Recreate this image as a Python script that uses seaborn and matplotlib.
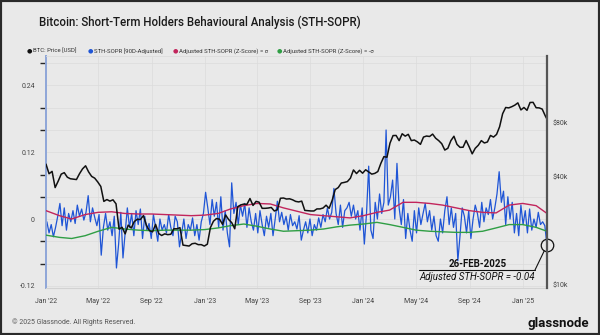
import numpy as np
import pandas as pd
import matplotlib
matplotlib.use("Agg")
import matplotlib.pyplot as plt
import matplotlib.dates as mdates
import matplotlib.ticker as mticker
from matplotlib.patches import Rectangle
from matplotlib.lines import Line2D
import seaborn as sns

# ---------------- data ----------------
# BTC price, weekly from 2022-01-01, in $k
btc_price_k = [
    47.3, 41.8, 43.1, 35.0, 38.0, 41.6, 42.4, 40.0, 39.2, 39.0, 38.8, 41.8, 44.5,
    46.3, 42.8, 40.4, 39.5, 37.6, 35.5, 29.3, 30.0, 29.4, 29.9, 28.4, 20.5, 21.0,
    19.3, 21.6, 20.8, 22.6, 23.3, 23.2, 24.4, 21.5, 20.1, 19.8, 21.8, 19.4, 18.9,
    19.3, 19.1, 19.2, 20.6, 20.6, 20.9, 16.7, 16.6, 16.5, 17.0, 17.1, 16.8, 16.8, 16.5,
    16.9, 20.9, 22.7, 23.5, 23.3, 21.8, 24.6, 23.2, 22.3, 20.6, 27.4, 28.0,
    28.3, 28.2, 30.4, 27.8, 29.3, 29.0, 26.8, 26.8, 26.9, 27.1, 25.9, 26.3, 30.5,
    30.6, 30.2, 30.3, 29.9, 29.3, 29.1, 29.4, 26.1, 26.0, 25.9, 25.9, 26.6, 26.6, 26.9,
    27.9, 26.8, 29.7, 34.1, 35.0, 37.1, 37.4, 37.8, 39.5, 43.9, 41.9, 43.7, 42.1,
    44.0, 42.8, 41.6, 42.0, 43.0, 47.8, 52.1, 51.7, 62.0, 68.3, 68.4, 64.0, 69.9,
    67.8, 69.4, 64.0, 64.5, 63.0, 61.0, 67.0, 67.9, 67.5, 69.6, 66.0, 64.0, 61.5,
    56.7, 58.0, 64.0, 67.7, 61.0, 58.7, 58.8, 64.1, 59.1, 54.0, 58.0, 60.3, 64.0,
    62.1, 62.9, 68.4, 67.0, 69.3, 76.5, 90.5, 98.0, 97.5, 99.0, 101.0, 104.0, 95.0,
    98.0, 94.5, 104.5, 104.7, 97.7, 97.5, 96.0, 88.0,
    84.3,
]

# STH-SOPR [90D-Adjusted], every 5 days ending 2025-02-26
sth_sopr = [
    -0.005, -0.025, -0.010, -0.032, -0.015, 0.005,
    0.028, -0.012, 0.020, -0.020, 0.010, -0.005,
    0.015, -0.008, 0.025, 0.005, 0.018, -0.002,
    0.012, 0.042, -0.005, 0.020, 0.003, -0.012,
    0.008, -0.065, -0.015, 0.010, -0.020, -0.005,
    -0.030, 0.005, -0.088, -0.045, 0.012, -0.070,
    -0.025, 0.020, -0.015, 0.010, -0.030, 0.015,
    -0.010, 0.018, -0.035, 0.005, -0.020, -0.008,
    -0.035, 0.008, -0.015, -0.040, 0.000, -0.020,
    -0.010, -0.025, 0.008, -0.015, -0.030, 0.005,
    -0.005, -0.050, -0.025, 0.000, -0.035, -0.010,
    -0.020, 0.002, -0.030, -0.010, -0.038, -0.005,
    0.010, 0.048, 0.020, -0.010, 0.035, 0.005,
    0.030, -0.015, 0.040, -0.020, 0.015, -0.025,
    -0.050, 0.065, 0.010, 0.030, -0.010, 0.025,
    0.005, 0.028, -0.015, 0.020, -0.005, -0.020,
    0.010, -0.025, 0.015, -0.010, -0.030, 0.005,
    -0.015, 0.010, -0.030, 0.000, 0.032, -0.005,
    0.012, -0.010, 0.005, -0.020, 0.008, -0.012,
    -0.005, -0.018, 0.006, -0.038, -0.020, -0.005,
    -0.025, 0.000, -0.030, -0.010, -0.020, 0.002,
    -0.015, 0.008, -0.005, 0.020, 0.000, 0.012,
    0.055, 0.010, -0.010, 0.025, -0.015, 0.015,
    0.020, 0.030, 0.005, 0.025, 0.000, 0.015,
    -0.020, 0.020, -0.045, 0.010, 0.095, -0.020,
    -0.035, 0.030, 0.000, 0.045, 0.010, 0.030,
    0.160, 0.025, 0.040, 0.070, 0.000, 0.100,
    0.020, -0.010, 0.035, -0.035, 0.010, -0.020,
    -0.040, 0.015, -0.025, 0.020, -0.010, 0.010,
    0.028, -0.005, 0.015, -0.020, 0.005, -0.030,
    -0.040, 0.000, -0.025, 0.015, 0.040, -0.010,
    0.020, -0.015, 0.010, -0.075, -0.030, 0.020,
    0.005, -0.025, 0.015, -0.035, 0.000, 0.025,
    0.010, -0.015, 0.030, -0.005, 0.020, 0.008,
    0.035, 0.000, 0.020, 0.045, 0.085, 0.030,
    0.050, -0.010, 0.040, 0.000, 0.030, -0.025,
    0.010, -0.030, 0.025, -0.010, 0.015, -0.025,
    0.018, -0.020, 0.000, -0.015, 0.012, -0.010,
    -0.005, -0.012, -0.047,
]

# Adjusted STH-SOPR (Z-Score) = +sigma / -sigma, monthly from Jan 2022 + last day
z_plus = [0.015, 0.006, 0.000, 0.008, 0.012, 0.013, 0.010, 0.009, 0.009, 0.008,
          0.007, 0.006, 0.007, 0.010, 0.018, 0.024, 0.028, 0.027, 0.020, 0.014,
          0.008, 0.006, 0.004, 0.002, 0.006, 0.012, 0.016, 0.030, 0.030, 0.028,
          0.025, 0.020, 0.015, 0.012, 0.011, 0.025, 0.028, 0.024, 0.010]
z_minus = [-0.029, -0.033, -0.035, -0.030, -0.022, -0.015, -0.018, -0.020, -0.021, -0.020,
           -0.020, -0.020, -0.019, -0.016, -0.012, -0.009, -0.013, -0.018, -0.022, -0.021,
           -0.020, -0.018, -0.014, -0.011, -0.009, -0.006, -0.010, -0.015, -0.020, -0.022,
           -0.023, -0.024, -0.024, -0.022, -0.016, -0.010, -0.010, -0.015, -0.022]

left_ticks = [-0.12, 0, 0.12, 0.24]
left_labels = ["-0.12", "0", "0.12", "0.24"]
right_ticks = [10000, 40000, 80000]
right_labels = ["$10k", "$40k", "$80k"]
x_tick_dates = ["2022-01-01", "2022-05-01", "2022-09-01", "2023-01-01", "2023-05-01",
                "2023-09-01", "2024-01-01", "2024-05-01", "2024-09-01", "2025-01-01"]
x_tick_labels = ["Jan '22", "May '22", "Sep '22", "Jan '23", "May '23",
                 "Sep '23", "Jan '24", "May '24", "Sep '24", "Jan '25"]
legend_labels = ["BTC: Price [USD]", "STH-SOPR [90D-Adjusted]",
                 "Adjusted STH-SOPR (Z-Score) = σ", "Adjusted STH-SOPR (Z-Score) = -σ"]

# ---------------- frames ----------------
last_day = pd.Timestamp("2025-02-26")
price_dates = list(pd.date_range("2022-01-01", periods=len(btc_price_k) - 1, freq="7D")) + [last_day]
df_price = pd.DataFrame({"date": price_dates, "price": np.array(btc_price_k) * 1000})
df_sopr = pd.DataFrame({"date": pd.date_range(end=last_day, periods=len(sth_sopr), freq="5D"),
                        "v": sth_sopr})
z_dates = list(pd.date_range("2022-01-01", periods=len(z_plus) - 1, freq="MS")) + [last_day]
df_z = pd.DataFrame({"date": z_dates, "plus": z_plus, "minus": z_minus})

# ---------------- style ----------------
BG = "#e9e9e9"
sns.set_theme(style="white")
plt.rcParams["font.family"] = ["Roboto", "DejaVu Sans"]

C_BLACK = "#111111"
C_BLUE = "#1f55d6"
C_PINK = "#c2255c"
C_GREEN = "#2f9e44"

fig = plt.figure(figsize=(6.0, 3.35), dpi=100, facecolor=BG)
W, H = 600, 335
ax = fig.add_axes([46 / W, 1 - 288 / H, (547 - 46) / W, (288 - 56) / H])
ax.set_facecolor(BG)
ax2 = ax.twinx()

sns.lineplot(data=df_z, x="date", y="plus", ax=ax, color=C_PINK, lw=1.0, zorder=3)
sns.lineplot(data=df_z, x="date", y="minus", ax=ax, color=C_GREEN, lw=1.0, zorder=3)
sns.lineplot(data=df_sopr, x="date", y="v", ax=ax, color=C_BLUE, lw=0.9, zorder=2)
sns.lineplot(data=df_price, x="date", y="price", ax=ax2, color=C_BLACK, lw=1.1)

ax.set_xlim(pd.Timestamp("2022-01-01"), last_day)
ax.set_ylim(-0.124, 0.293)
ax2.set_yscale("log")
ax2.set_ylim(9620, 190000)

ax.set_xlabel("")
ax.set_ylabel("")
ax2.set_ylabel("")

ax.set_xticks(pd.to_datetime(x_tick_dates))
ax.set_xticklabels(x_tick_labels, fontsize=5, color="#444444")
ax.set_yticks(left_ticks)
ax.set_yticklabels(left_labels, fontsize=5, color="#444444")
ax.set_yticks(np.arange(-0.12, 0.29, 0.04), minor=True)
ax.tick_params(axis="both", length=0, pad=8)
ax.tick_params(axis="x", pad=7)
ax.grid(True, which="both", axis="y", color="#dcdcdc", lw=0.5)
ax.grid(True, which="major", axis="x", color="#dcdcdc", lw=0.5)

ax2.yaxis.set_major_locator(mticker.FixedLocator(right_ticks))
ax2.yaxis.set_minor_locator(mticker.NullLocator())
ax2.set_yticklabels(right_labels, fontsize=5, color="#444444")
ax2.tick_params(axis="y", length=0, pad=4)
ax2.grid(False)

for a in (ax, ax2):
    for s in a.spines.values():
        s.set_visible(False)
ax.spines["bottom"].set_visible(True)
ax.spines["bottom"].set_color("#d2d2d2")
ax.spines["bottom"].set_linewidth(0.8)
ax.spines["top"].set_visible(True)
ax.spines["top"].set_color("#dddddd")
ax.spines["top"].set_linewidth(0.6)
ax.spines["left"].set_visible(True)
ax.spines["left"].set_color("#8ea6d8")
ax.spines["left"].set_linewidth(1.4)
ax2.spines["right"].set_visible(True)
ax2.spines["right"].set_color("#555555")
ax2.spines["right"].set_linewidth(1.6)

# ---------------- annotation ----------------
lx, lv = df_sopr["date"].iloc[-1], df_sopr["v"].iloc[-1]
ax.plot([lx], [lv], marker="o", ms=9, mfc="none", mec="#111111", mew=0.9,
        zorder=6, clip_on=False)
ax.annotate("", xy=(lx, lv), xycoords="data",
            xytext=(535 / W, 1 - 270 / H), textcoords="figure fraction",
            arrowprops=dict(arrowstyle="-", color="#111111", lw=0.8, shrinkA=0, shrinkB=4.5))
fig.add_artist(Line2D([419 / W, 535 / W], [1 - 270 / H, 1 - 270 / H],
                      color="#111111", lw=0.8))
fig.text(478 / W, 1 - 264 / H, "26-FEB-2025", fontsize=7, fontweight="bold",
         ha="center", va="center", color="#111111")
fig.text(477 / W, 1 - 277 / H, "Adjusted STH-SOPR = -0.04", fontsize=7, style="italic",
         ha="center", va="center", color="#111111")

# ---------------- title, legend, footer ----------------
fig.text(39 / W, 1 - 22 / H, "Bitcoin: Short-Term Holders Behavioural Analysis (STH-SOPR)",
         fontsize=8.3, fontweight="medium", ha="left", va="center", color="#1a1a1a")

leg_x = [29, 90, 175, 279]
leg_c = [C_BLACK, C_BLUE, C_PINK, C_GREEN]
for x0, c, lab in zip(leg_x, leg_c, legend_labels):
    fig.text(x0 / W, 1 - 51 / H, "●", fontsize=4.5, color=c, ha="center", va="center",
             family=["DejaVu Sans"])
    fig.text((x0 + 4) / W, 1 - 51 / H, lab, fontsize=4.3, color="#333333",
             ha="left", va="center", family=["Roboto", "DejaVu Sans"])

fig.text(12 / W, 1 - 322 / H, "© 2025 Glassnode. All Rights Reserved.", fontsize=5,
         color="#555555", ha="left", va="center")
fig.text(527 / W, 1 - 323 / H, "glassnode", fontsize=9.5, fontweight="bold",
         color="#111111", ha="left", va="center")

fig.add_artist(Rectangle((0, 0), 1, 1, transform=fig.transFigure, fill=False,
                         edgecolor="#2a2a2a", lw=3))

fig.savefig("out.png", dpi=100, facecolor=BG)
